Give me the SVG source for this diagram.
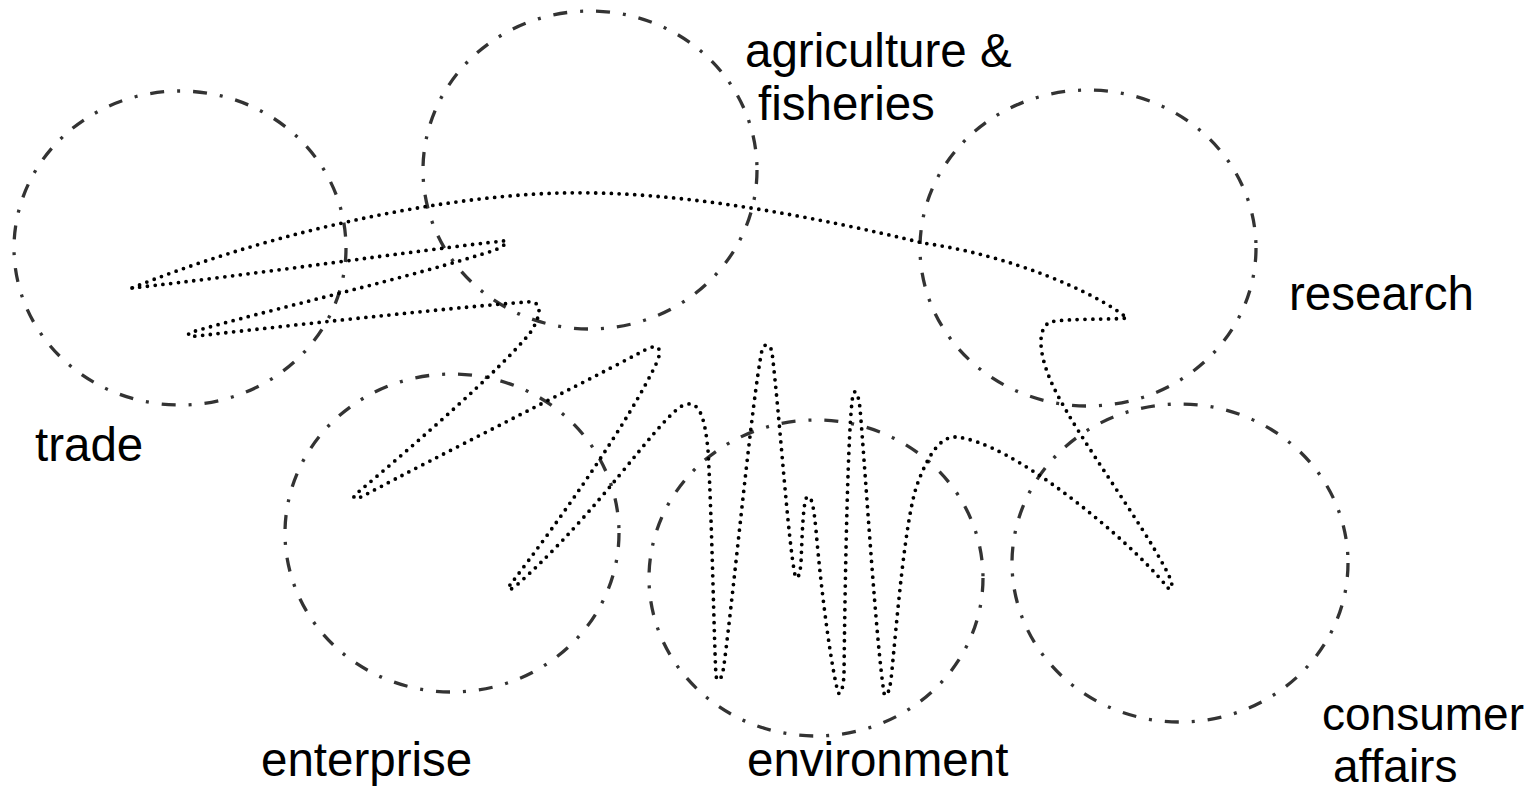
<svg xmlns="http://www.w3.org/2000/svg" width="1540" height="792" viewBox="0 0 1540 792">
<style>
.area{fill:none;stroke:#333;stroke-width:3.3;stroke-dasharray:14 13 3 13}
.lbl{font-family:"Liberation Sans",Arial,sans-serif;font-size:47.5px;fill:#000}
.sm{font-size:46px}
.trail{fill:none;stroke:#000;stroke-width:3.8;stroke-linecap:round;stroke-dasharray:0 7.8}
</style>
<rect width="1540" height="792" fill="#fff"/>
<g id="trade"><ellipse class="area" cx="180" cy="248" rx="166" ry="157"/><text class="lbl" x="35" y="461">trade</text></g>
<g id="agriculture"><ellipse class="area" cx="590" cy="170" rx="167" ry="159"/><text class="lbl" x="745" y="67">agriculture &amp;</text><text class="lbl" x="758" y="120">fisheries</text></g>
<g id="research"><ellipse class="area" cx="1088" cy="248" rx="168" ry="158"/><text class="lbl" x="1289" y="310">research</text></g>
<g id="enterprise"><ellipse class="area" cx="452" cy="533" rx="167" ry="159"/><text class="lbl" x="261" y="776">enterprise</text></g>
<g id="environment"><ellipse class="area" cx="816" cy="578" rx="167" ry="158"/><text class="lbl" x="747" y="776">environment</text></g>
<g id="consumer"><ellipse class="area" cx="1180" cy="563" rx="168" ry="159"/><text class="lbl sm" x="1322" y="730">consumer</text><text class="lbl sm" x="1333" y="782">affairs</text></g>
<g id="connectors">
<path class="trail" d="M 132,288
C 250,275 420,250 503,241
C 510,240 505,246 495,250
C 420,275 260,312 192,332
C 185,335 189,337 197,336
C 320,322 470,306 527,302
C 545,300 540,318 530,333
C 500,370 420,440 356,494
C 350,500 358,499 365,495
C 440,455 560,395 645,350
C 660,342 662,350 657,362
C 630,420 560,520 510,585
C 505,592 512,590 518,584
C 600,510 650,430 680,407
C 700,395 705,420 708,450
C 712,520 714,640 716,676
C 718,684 722,680 724,665
C 735,580 752,400 762,350
C 764,343 770,343 772,352
C 780,420 788,540 795,575
C 797,582 800,575 801,563
C 802,540 803,500 807,497
C 812,494 814,510 816,530
C 822,600 832,670 838,692
C 840,697 843,690 844,675
C 845,580 848,420 853,395
C 855,388 858,392 860,408
C 866,480 876,640 884,693
C 886,699 889,693 891,680
C 897,620 905,520 917,485
C 928,455 940,437 955,437
C 1010,440 1130,540 1168,588
C 1175,592 1172,580 1165,568
C 1140,520 1080,440 1055,390
C 1040,360 1035,330 1050,322
C 1070,318 1110,320 1127,318
C 1095,292 1010,255 923,243
C 820,218 680,190 560,193
C 420,197 250,240 132,288 Z"/>
</g>
</svg>
